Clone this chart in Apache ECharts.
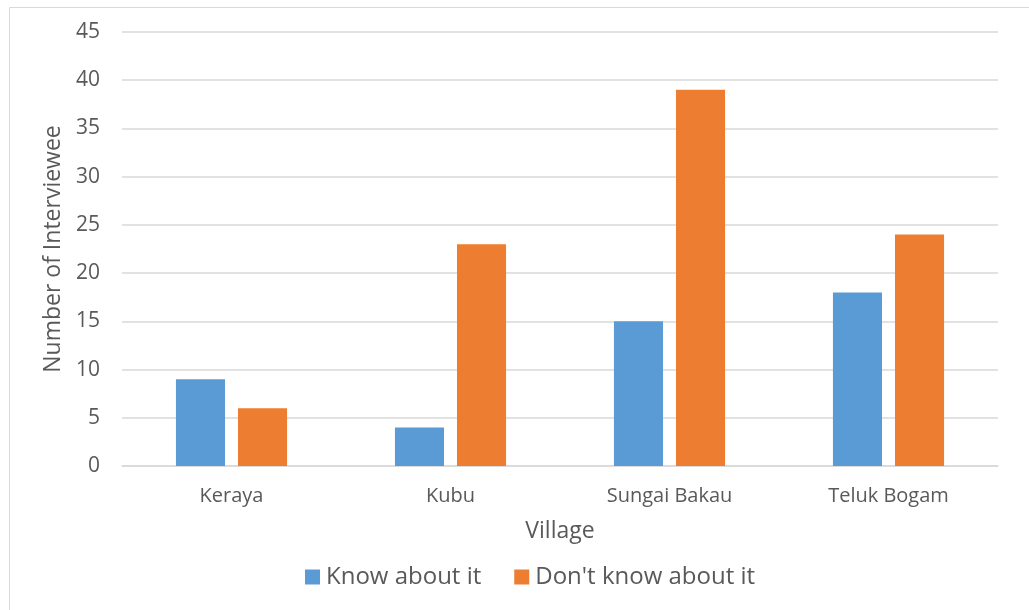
<!DOCTYPE html>
<html><head><meta charset="utf-8">
<script src="https://cdn.jsdelivr.net/npm/echarts@6/dist/echarts.min.js"></script>
<style>html,body{margin:0;padding:0;background:#fff}#c{width:1029px;height:610px}</style>
</head><body><div id="c"></div>
<script>
const categories = ['Keraya', 'Kubu', 'Sungai Bakau', 'Teluk Bogam'];
const knowAboutIt = [9, 4, 15, 18];
const dontKnowAboutIt = [6, 23, 39, 24];
const seriesNames = ['Know about it', "Don't know about it"];
const yTicks = {min: 0, max: 45, interval: 5};

const font = "'Open Sans', 'Liberation Sans', sans-serif";
const chart = echarts.init(document.getElementById('c'));
chart.setOption({
  animation: false,
  textStyle: {fontFamily: font},
  graphic: [{type: 'rect', shape: {x: 9.5, y: 7.5, width: 1030, height: 610}, style: {fill: 'none', stroke: '#d9d9d9', lineWidth: 1}, silent: true, z: -1}],
  grid: {left: 122, right: 31, top: 32, bottom: 144},
  legend: {
    top: 560, left: 300, itemWidth: 15, itemHeight: 15, itemGap: 33,
    icon: 'rect',
    textStyle: {fontSize: 24, color: '#595959', fontFamily: font, padding: [0, 0, 0, 1]},
    data: seriesNames
  },
  xAxis: {
    type: 'category', data: categories,
    name: 'Village', nameLocation: 'middle', nameGap: 54,
    nameTextStyle: {fontSize: 23, color: '#595959', fontFamily: font},
    axisLine: {lineStyle: {color: '#d9d9d9', width: 1.5}},
    axisTick: {show: false},
    axisLabel: {fontSize: 20, color: '#595959', margin: 20, fontFamily: font}
  },
  yAxis: {
    type: 'value', min: yTicks.min, max: yTicks.max, interval: yTicks.interval,
    name: 'Number of Interviewee', nameLocation: 'middle', nameGap: 56,
    nameTextStyle: {fontSize: 23, color: '#595959', fontFamily: font},
    axisLine: {show: false}, axisTick: {show: false},
    axisLabel: {fontSize: 21, color: '#595959', margin: 22, fontFamily: font},
    splitLine: {lineStyle: {color: '#d9d9d9', width: 1.5}}
  },
  series: [
    {name: seriesNames[0], type: 'bar', data: knowAboutIt, barWidth: '22.4%', barGap: '26.5%', itemStyle: {color: '#5b9bd5'}},
    {name: seriesNames[1], type: 'bar', data: dontKnowAboutIt, barWidth: '22.4%', barGap: '26.5%', itemStyle: {color: '#ed7d31'}}
  ]
});
</script></body></html>
